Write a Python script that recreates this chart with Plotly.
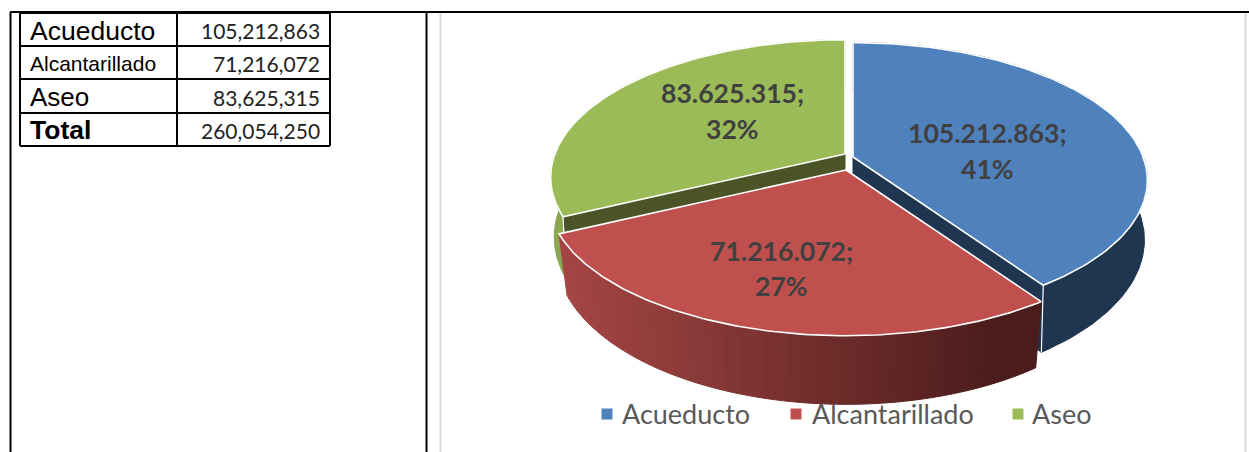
import math
import plotly.graph_objects as go

CATEGORIES = ["Acueducto", "Alcantarillado", "Aseo"]
VALUES = [105212863, 71216072, 83625315]
PERCENT_LABELS = ["41%", "27%", "32%"]
TOTAL_LABEL = "Total"

COL_TOP = {"Acueducto": "#4F81BD", "Alcantarillado": "#C0504D", "Aseo": "#9BBB59"}
COL_WALL = {"Acueducto": "#1F3550", "Aseo": "#8AA650"}
COL_CUT = {"Acueducto": "#1F3550", "Alcantarillado": "#4A1C1B", "Aseo": "#4A5426"}
CENTER = {"Acueducto": (853, 157), "Alcantarillado": (846, 170), "Aseo": (845, 154)}
SCALE = {"Acueducto": 0.995, "Alcantarillado": 1.005, "Aseo": 0.995}
PERSP = {"Acueducto": 0.169, "Alcantarillado": 0.185, "Aseo": 0.169}
WALL_SX = {"Acueducto": 0.99, "Alcantarillado": 0.972, "Aseo": 0.988}
WALL_H = {"Acueducto": 58, "Alcantarillado": 57, "Aseo": 58}
A, B = 291.6, 134.4
WALL_SY = 1.07

total = sum(VALUES)
angles = {}
acc = 0.0
for c, v in zip(CATEGORIES, VALUES):
    angles[c] = (acc, acc + v / total * 2 * math.pi)
    acc += v / total * 2 * math.pi


def proj(cat, th, bottom=False, r=1.0):
    cx, cy = CENTER[cat]
    s = SCALE[cat]
    x = r * math.sin(th)
    y = -r * math.cos(th)
    d = 1 - PERSP[cat] * y
    dx, dy = s * A * x / d, s * B * y / d
    if bottom:
        dx *= WALL_SX[cat]
        dy = dy * WALL_SY + WALL_H[cat]
    return cx + dx, cy + dy


def arc(cat, t0, t1, n, bottom=False):
    return [proj(cat, t0 + (t1 - t0) * i / n, bottom) for i in range(n + 1)]


def poly(points, fill, line=None, width=1.0):
    xs = [p[0] for p in points] + [points[0][0]]
    ys = [p[1] for p in points] + [points[0][1]]
    return go.Scatter(x=xs, y=ys, mode="lines", fill="toself", fillcolor=fill,
                      line=dict(color=line or fill, width=width),
                      hoverinfo="skip", showlegend=False)


def mix(c0, c1, t):
    return "rgb(%d,%d,%d)" % tuple(round(a + (b - a) * t) for a, b in zip(c0, c1))


fig = go.Figure()

# cut faces and outer walls for the far slices
for cat in ["Acueducto", "Aseo"]:
    t0, t1 = angles[cat]
    edge = t1 if cat == "Acueducto" else t0
    cx, cy = CENTER[cat]
    bottom_apex = (cx, cy + WALL_H[cat])
    fig.add_trace(poly([(cx, cy), proj(cat, edge), proj(cat, edge, True), bottom_apex], COL_CUT[cat]))
    top = arc(cat, t0, t1, 120)
    bot = arc(cat, t0, t1, 120, True)
    fig.add_trace(poly(top + bot[::-1], COL_WALL[cat]))
    # white seam on the slice's front corner
    p, q = proj(cat, edge), proj(cat, edge, True)
    fig.add_trace(go.Scatter(x=[p[0], q[0]], y=[p[1], q[1]], mode="lines",
                             line=dict(color="white", width=1.2), hoverinfo="skip", showlegend=False))

# front slice wall, shaded left to right
cat = "Alcantarillado"
t0, t1 = angles[cat]
N = 70
x_left, x_right = 570, 1000
for i in range(N):
    a0 = t0 + (t1 - t0) * i / N
    a1 = t0 + (t1 - t0) * (i + 1) / N
    pts = [proj(cat, a0), proj(cat, a1), proj(cat, a1, True), proj(cat, a0, True)]
    xm = sum(p[0] for p in pts) / 4
    t = min(max((xm - x_left) / (x_right - x_left), 0), 1)
    fig.add_trace(poly(pts, mix((163, 69, 67), (74, 28, 27), t)))

# top faces
for cat in ["Acueducto", "Aseo", "Alcantarillado"]:
    t0, t1 = angles[cat]
    fig.add_trace(poly([CENTER[cat]] + arc(cat, t0, t1, 120), COL_TOP[cat], "white", 1.6))

# legend markers
LEG_MARK_X = [607, 796, 1018]
LEG_TEXT_X = [620, 810, 1030]
fig.add_trace(go.Scatter(x=LEG_MARK_X, y=[414] * 3, mode="markers", hoverinfo="skip", showlegend=False,
                         marker=dict(symbol="square", size=11, line=dict(width=0),
                                     color=[COL_TOP[c] for c in CATEGORIES])))

ann = []
# data labels
LABEL_POS = {"Acueducto": (987, 133, 169), "Alcantarillado": (781, 251, 286), "Aseo": (732, 93, 129)}
for c, v, pct in zip(CATEGORIES, VALUES, PERCENT_LABELS):
    x, y1, y2 = LABEL_POS[c]
    for txt, y in ((f"{v:,}".replace(",", ".") + ";", y1), (pct, y2)):
        ann.append(dict(x=x, y=y, text=f"<b>{txt}</b>", showarrow=False, xanchor="center", yanchor="middle",
                        font=dict(family="Lato", size=26.6, color="#404040")))
# legend text
for c, x in zip(CATEGORIES, LEG_TEXT_X):
    ann.append(dict(x=x, y=413, text=c, showarrow=False, xanchor="left", yanchor="middle",
                    font=dict(family="Lato", size=27, color="#595959")))

# table
ROW_Y = [13, 46, 79, 113, 146]
TAB_X = (20, 177, 330)
shapes = []
def line(x0, y0, x1, y1, color="black", w=2):
    shapes.append(dict(type="line", x0=x0, y0=y0, x1=x1, y1=y1, line=dict(color=color, width=w)))
for y in ROW_Y:
    line(TAB_X[0], y, TAB_X[2], y)
for x in TAB_X:
    line(x, ROW_Y[0], x, ROW_Y[-1])
line(10, 12, 1249, 12)
line(10.5, 12, 10.5, 452)
line(426.5, 12, 426.5, 452)
line(440.5, 13, 440.5, 452, "#D9D9D9", 2)
line(1245.5, 13, 1245.5, 452, "#D9D9D9", 2)

NAME_SIZE = [26.5, 21, 26]
for i, (c, v) in enumerate(zip(CATEGORIES, VALUES)):
    ym = (ROW_Y[i] + ROW_Y[i + 1]) / 2
    ann.append(dict(x=28, y=ym + 1, text=c, showarrow=False, xanchor="left", yanchor="middle",
                    font=dict(family="Liberation Sans", size=NAME_SIZE[i], color="black")))
    ann.append(dict(x=322, y=ym + 1, text=f"{v:,}", showarrow=False, xanchor="right", yanchor="middle",
                    font=dict(family="Lato", size=21, color="#222222")))
ym = (ROW_Y[3] + ROW_Y[4]) / 2
ann.append(dict(x=28, y=ym, text=f"<b>{TOTAL_LABEL}</b>", showarrow=False, xanchor="left", yanchor="middle",
                font=dict(family="Liberation Sans", size=26.5, color="black")))
ann.append(dict(x=322, y=ym + 1, text=f"{total:,}", showarrow=False, xanchor="right", yanchor="middle",
                font=dict(family="Lato", size=21, color="#222222")))

fig.update_layout(
    width=1249, height=452, margin=dict(l=0, r=0, t=0, b=0),
    paper_bgcolor="white", plot_bgcolor="white", showlegend=False,
    xaxis=dict(range=[0, 1249], visible=False, fixedrange=True),
    yaxis=dict(range=[452, 0], visible=False, fixedrange=True),
    shapes=shapes, annotations=ann,
)
fig.write_html("out.html", config={"displayModeBar": False},
               post_script="document.body.style.margin='0';document.body.style.overflow='hidden';")
